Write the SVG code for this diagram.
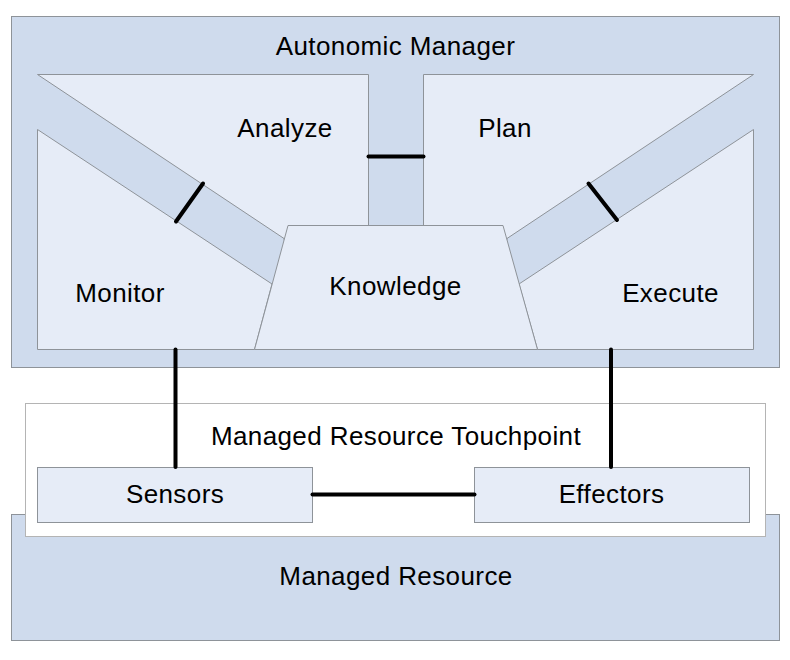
<svg xmlns="http://www.w3.org/2000/svg" width="790" height="660" viewBox="0 0 790 660">
<style>
.outer{fill:#cfdbed;stroke:#8e9399;stroke-width:1}
.inner{fill:#e6ecf7;stroke:#8e9399;stroke-width:1}
.tp{fill:#ffffff;stroke:#b4b4b4;stroke-width:1}
.lbl{font-family:"Liberation Sans",Arial,sans-serif;font-size:26px;letter-spacing:0.4px;fill:#000;text-anchor:middle}
.conn{stroke:#000;stroke-width:4;stroke-linecap:round;fill:none}
</style>
<rect width="790" height="660" fill="#ffffff"/>
<g id="managed-resource">
<rect class="outer" x="11.5" y="514.5" width="768" height="126"/>
<text class="lbl" x="396" y="585">Managed Resource</text>
</g>
<g id="autonomic-manager">
<rect class="outer" x="11.5" y="16.5" width="768" height="351"/>
<text class="lbl" x="395.5" y="55">Autonomic Manager</text>
</g>
<g id="analyze">
<polygon class="inner" points="37.5,74.5 368.5,74.5 368.5,260 288,260 284,238.5"/>
<text class="lbl" x="285" y="137">Analyze</text>
</g>
<g id="plan">
<polygon class="inner" points="423.5,74.5 753.5,74.5 507,238.5 503,260 423.5,260"/>
<text class="lbl" x="505" y="137">Plan</text>
</g>
<g id="monitor">
<polygon class="inner" points="37.5,129.5 272,284 254.5,349.5 37.5,349.5"/>
<text class="lbl" x="120" y="302">Monitor</text>
</g>
<g id="execute">
<polygon class="inner" points="753.5,129.5 753.5,349.5 537.5,349.5 519,284"/>
<text class="lbl" x="670.5" y="302">Execute</text>
</g>
<g id="knowledge">
<polygon class="inner" points="288,225.5 503,225.5 537.5,349.5 254.5,349.5"/>
<text class="lbl" x="395.5" y="295">Knowledge</text>
</g>
<g id="touchpoint">
<rect class="tp" x="25.5" y="403.5" width="740" height="133"/>
<text class="lbl" x="396" y="445">Managed Resource Touchpoint</text>
</g>
<g id="sensors">
<rect class="inner" x="37.5" y="467.5" width="275" height="55"/>
<text class="lbl" x="175" y="503">Sensors</text>
</g>
<g id="effectors">
<rect class="inner" x="474.5" y="467.5" width="275" height="55"/>
<text class="lbl" x="611.5" y="503">Effectors</text>
</g>
<g id="connectors">
<line class="conn" x1="368.5" y1="156.5" x2="423.5" y2="156.5"/>
<line class="conn" x1="203" y1="183.5" x2="176" y2="221.5"/>
<line class="conn" x1="588.5" y1="183.5" x2="617" y2="220"/>
<line class="conn" x1="175.5" y1="349.5" x2="175.5" y2="467"/>
<line class="conn" x1="611" y1="349.5" x2="611" y2="467"/>
<line class="conn" x1="312.5" y1="494.5" x2="474.5" y2="494.5"/>
</g>
</svg>
